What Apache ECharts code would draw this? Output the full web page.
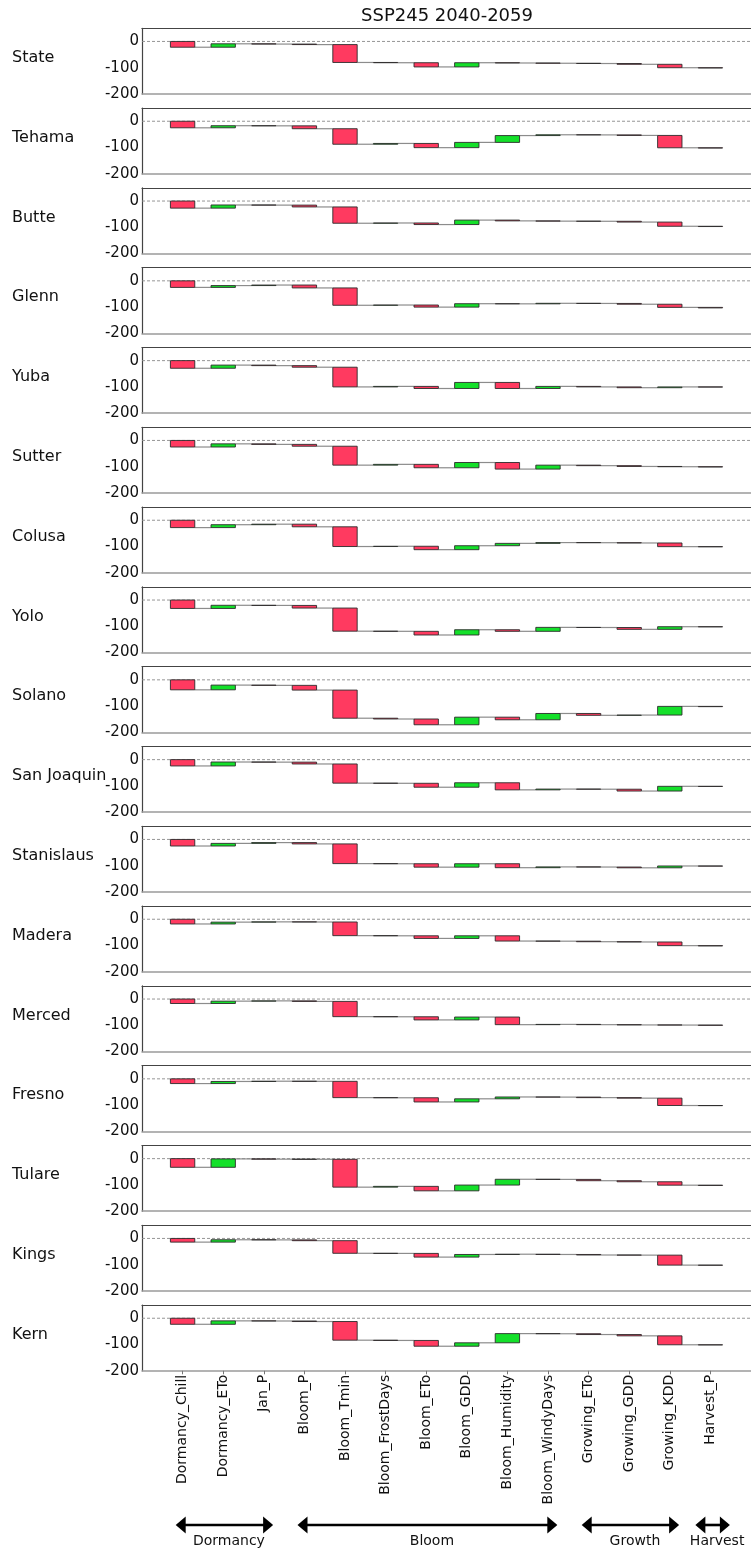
<!DOCTYPE html>
<html>
<head>
<meta charset="utf-8">
<script src="https://cdn.jsdelivr.net/npm/echarts@6/dist/echarts.min.js"></script>
<style>
  html, body { margin: 0; padding: 0; background: #ffffff; }
  #chart { width: 751px; height: 1554px; }
</style>
</head>
<body>
<div id="chart"></div>
<script>
// Drivers along the x axis, in growing-season order
const categories = ['Dormancy_Chill', 'Dormancy_ETo', 'Jan_P', 'Bloom_P', 'Bloom_Tmin',
  'Bloom_FrostDays', 'Bloom_ETo', 'Bloom_GDD', 'Bloom_Humidity', 'Bloom_WindyDays',
  'Growing_ETo', 'Growing_GDD', 'Growing_KDD', 'Harvest_P'];

// Contribution of each driver (waterfall steps), one array per region
const vState      = [-22, 13, -1, -2, -68, -1, -16, 16, -1, -1, -1, -3, -13, -1];
const vTehama     = [-25, 8, -0.5, -11, -59, 3, -16, 20, 26, 3, -0.5, -2, -47, -1];
const vButte      = [-27, 12, -0.5, -7, -62, 1, -6, 17, -3, -1, -0.5, -3, -16, -1];
const vGlenn      = [-25, 7, 2, -11, -66, 1, -8, 13, -0.5, 2, -0.5, -3, -12, -2];
const vYuba       = [-29, 12, -2, -6, -75, 2, -8, 23, -23, 8, -2, -3, 3, -0.5];
const vSutter     = [-25, 12, -2, -7, -72, 3, -13, 20, -25, 15, -2, -3, -1, -1];
const vColusa     = [-28, 11, 2, -10, -75, 1, -13, 15, 9, 3, -0.5, -1, -14, -0.5];
const vYolo       = [-32, 12, -0.5, -10, -88, -0.5, -14, 20, -6, 15, -0.5, -7, 10, -0.5];
const vSolano     = [-38, 18, -1, -18, -107, -3, -22, 29, -10, 24, -7, 1, 33, -1];
const vSanJoaquin = [-24, 15, -0.5, -7, -73, -0.5, -15, 17, -27, 3, -0.5, -7, 18, -0.5];
const vStanislaus = [-25, 10, 3, -5, -75, -0.5, -13, 13, -15, 3, -0.5, -3, 7, -0.5];
const vMadera     = [-18, 7, 1, -0.5, -52, -0.5, -10, 10, -20, -0.5, -2, -1, -14, -1];
const vMerced     = [-17, 9, 1, -2, -58, -0.5, -12, 11, -29, 1, -1, -1, -0.5, -1];
const vFresno     = [-18, 8, 1, -0.5, -62, -0.5, -16, 12, 7, -0.5, -2, -2, -28, -0.5];
const vTulare     = [-33, 32, -1, -0.5, -106, 3, -17, 22, 22, -0.5, -5, -4, -13, -1];
const vKings      = [-14, 9, -0.5, -3, -48, -0.5, -14, 10, 1, -1, -2, -0.5, -38, -0.5];
const vKern       = [-23, 13, -0.5, -2, -71, -1, -22, 13, 35, -0.5, -3, -5, -34, -0.5];

const regions = ['State', 'Tehama', 'Butte', 'Glenn', 'Yuba', 'Sutter', 'Colusa', 'Yolo',
  'Solano', 'San Joaquin', 'Stanislaus', 'Madera', 'Merced', 'Fresno', 'Tulare', 'Kings', 'Kern'];
const regionValues = [vState, vTehama, vButte, vGlenn, vYuba, vSutter, vColusa, vYolo,
  vSolano, vSanJoaquin, vStanislaus, vMadera, vMerced, vFresno, vTulare, vKings, vKern];

// Phenological stages: name and first/last driver index they cover
const stageNames = ['Dormancy', 'Bloom', 'Growth', 'Harvest'];
const stageFirst = [0, 3, 10, 13];
const stageLast  = [2, 9, 12, 13];

const yTicks = [0, -100, -200];
const titleText = 'SSP245 2040-2059';

// ---------- layout & style ----------
const FONT = '"DejaVu Sans", "Liberation Sans", sans-serif';
const RED = '#ff3a60';
const GREEN = '#14e02a';
const EDGE = '#2b2b2b';
const PLOT_LEFT = 142;
const PLOT_WIDTH = 612;
const PANEL_TOP0 = 28.3;
const PANEL_STEP = 79.8;
const PANEL_H = 65.7;
const HALF_BAR = 0.3;

const chart = echarts.init(document.getElementById('chart'), null, { renderer: 'canvas' });

function waterfallItems(deltas) {
  let run = 0;
  return deltas.map((d, i) => {
    const start = run;
    run += d;
    return [i, start, run];
  });
}

function renderStep(params, api) {
  const i = api.value(0);
  const s = api.value(1);
  const e = api.value(2);
  const p0 = api.coord([i - HALF_BAR, s]);
  const p1 = api.coord([i + HALF_BAR, e]);
  const children = [];
  if (i < categories.length - 1) {
    const pn = api.coord([i + 1 - HALF_BAR, e]);
    children.push({
      type: 'line',
      shape: { x1: p1[0], y1: p1[1], x2: pn[0], y2: p1[1] },
      style: { stroke: '#8c8c8c', lineWidth: 1.2 }
    });
  }
  children.push({
    type: 'rect',
    shape: { x: p0[0], y: Math.min(p0[1], p1[1]), width: p1[0] - p0[0], height: Math.abs(p1[1] - p0[1]) },
    style: { fill: e >= s ? GREEN : RED, stroke: EDGE, lineWidth: 0.9 }
  });
  return { type: 'group', children };
}

function renderStage(params, api) {
  const first = api.value(0);
  const last = api.value(1);
  const idx = api.value(2);
  const single = first === last;
  const a = api.coord([first - (single ? 0.37 : 0.17), 0.5]);
  const b = api.coord([last + (single ? 0.48 : 0.23), 0.5]);
  const y = a[1];
  const headL = 10, headH = 8.4;
  return {
    type: 'group',
    children: [
      { type: 'line', shape: { x1: a[0] + 2, y1: y, x2: b[0] - 2, y2: y }, style: { stroke: '#000', lineWidth: 2.6 } },
      { type: 'polygon', shape: { points: [[a[0], y], [a[0] + headL, y - headH], [a[0] + headL, y + headH]] }, style: { fill: '#000' } },
      { type: 'polygon', shape: { points: [[b[0], y], [b[0] - headL, y - headH], [b[0] - headL, y + headH]] }, style: { fill: '#000' } },
      { type: 'text', x: (a[0] + b[0]) / 2 + 4.5, y: y + 16.5,
        style: { text: stageNames[idx], font: '14px ' + FONT, fill: '#111', align: 'center', verticalAlign: 'middle' } }
    ]
  };
}

const grids = [], xAxes = [], yAxes = [], series = [], graphics = [];
const last = regions.length - 1;
const tickIdx = categories.map((_, i) => i);

regions.forEach((name, k) => {
  const top = PANEL_TOP0 + PANEL_STEP * k;
  grids.push({ left: PLOT_LEFT, top: top, width: PLOT_WIDTH, height: PANEL_H, containLabel: false });
  const isLast = k === last;
  // bottom axis (carries the data)
  xAxes.push({
    gridIndex: k, type: 'value', min: -1, max: 14, position: 'bottom',
    axisLine: { show: true, onZero: false, lineStyle: { color: '#9a9a9a', width: 1.5 } },
    axisTick: isLast ? { show: true, length: 3.5, customValues: tickIdx, lineStyle: { color: '#777', width: 1 } } : { show: false },
    axisLabel: isLast ? {
      show: true, rotate: 90, margin: 4, fontSize: 14, fontFamily: FONT, color: '#111',
      customValues: tickIdx, formatter: v => categories[v] || ''
    } : { show: false },
    splitLine: { show: false }
  });
  // top frame edge
  xAxes.push({
    gridIndex: k, type: 'value', min: -1, max: 14, position: 'top',
    axisLine: { show: true, onZero: false, lineStyle: { color: '#444', width: 1.2 } },
    axisTick: { show: false }, axisLabel: { show: false }, splitLine: { show: false }
  });
  yAxes.push({
    gridIndex: k, type: 'value', min: -200, max: 50, interval: 100,
    axisLine: { show: true, onZero: false, lineStyle: { color: '#444', width: 1.2 } },
    axisTick: { show: false },
    axisLabel: { margin: 3, fontSize: 15, fontFamily: FONT, color: '#111',
      formatter: v => (yTicks.indexOf(v) >= 0 ? String(v) : '') },
    splitLine: { show: false }
  });
  // dashed zero reference
  series.push({
    type: 'line', xAxisIndex: 2 * k, yAxisIndex: k, silent: true, symbol: 'none', z: 1,
    data: [[-1, 0], [14, 0]],
    lineStyle: { color: '#8a8a8a', width: 0.9, type: [3, 2] }
  });
  series.push({
    type: 'custom', xAxisIndex: 2 * k, yAxisIndex: k, z: 3, clip: false,
    renderItem: renderStep,
    data: waterfallItems(regionValues[k])
  });
  graphics.push({
    type: 'text', x: 12, y: top + 29.5,
    style: { text: name, font: '16px ' + FONT, fill: '#111', align: 'left', verticalAlign: 'middle' }
  });
});

// stage annotation strip below the driver labels
const gStage = regions.length;
grids.push({ left: PLOT_LEFT, top: 1515, width: PLOT_WIDTH, height: 20 });
xAxes.push({ gridIndex: gStage, type: 'value', min: -1, max: 14, show: false });
yAxes.push({ gridIndex: gStage, type: 'value', min: 0, max: 1, show: false });
series.push({
  type: 'custom', xAxisIndex: xAxes.length - 1, yAxisIndex: yAxes.length - 1, clip: false,
  renderItem: renderStage,
  data: stageNames.map((_, i) => [stageFirst[i], stageLast[i], i])
});

graphics.push({
  type: 'text', x: 447, y: 16,
  style: { text: titleText, font: '18px ' + FONT, fill: '#111', align: 'center', verticalAlign: 'middle' }
});

chart.setOption({
  backgroundColor: '#ffffff',
  animation: false,
  grid: grids,
  xAxis: xAxes,
  yAxis: yAxes,
  series: series,
  graphic: graphics
});
</script>
</body>
</html>
